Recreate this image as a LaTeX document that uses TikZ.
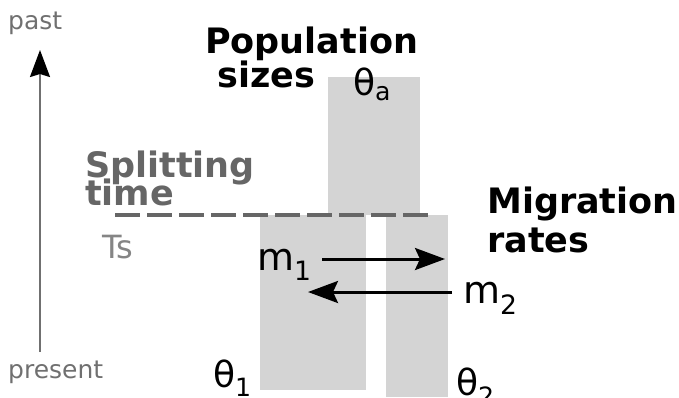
\documentclass[tikz,border=0pt]{standalone}
\usepackage{fontspec}
\setmainfont{DejaVu Sans}
\usetikzlibrary{arrows.meta,positioning}
\definecolor{popgrey}{HTML}{D4D4D4}
\definecolor{labgrey}{HTML}{707070}
\definecolor{splitgrey}{HTML}{666666}

\begin{document}
\begin{tikzpicture}[
    x=1pt, y=-1pt,
    pop/.style={fill=popgrey, draw=none},
    lbl/.style={inner sep=0pt, anchor=base west},
    head/.style={lbl, font=\fontsize{35}{35}\selectfont\bfseries},
    timelbl/.style={lbl, labgrey, font=\fontsize{25}{25}\selectfont},
    param/.style={lbl, font=\fontsize{36}{36}\selectfont},
    migr/.style={-{Stealth[length=30pt, width=22pt, inset=5pt]}, line width=3pt}
  ]
    \useasboundingbox (0,0) rectangle (679,397);
    % population blocks
    \fill[pop] (328,77) rectangle (420,215);
    \fill[pop] (260,215) rectangle (366,390);
    \fill[pop] (386,215) rectangle (448,397);
    % time axis
    \node[timelbl] (past) at (8,29) {past};
    \node[timelbl] (present) at (8,378) {present};
    \coordinate (tbot) at (40,352);
    \coordinate (ttop) at (40,50);
    \draw[labgrey, line width=2pt, -{Stealth[length=27pt, width=20pt, inset=3pt, black]}] (tbot) -- (ttop);
    % splitting time
    \node[head, splitgrey] (split) at (85,177) {Splitting};
    \node[head, splitgrey] (time) at (85,205) {time};
    \coordinate (ts0) at (115,215);
    \coordinate (ts1) at (432,215);
    \draw[splitgrey, line width=4pt, dash pattern=on 25pt off 7pt] (ts0) -- (ts1);
    \node[lbl, labgrey!85, font=\fontsize{32}{32}\selectfont] (ts) at (102,258) {Ts};
    % headings
    \node[head] (popA) at (205,53) {Population};
    \node[head] (popB) at (217,87) {sizes};
    \node[head] (migA) at (487,213) {Migration};
    \node[head] (migB) at (487,252) {rates};
    % parameters
    \node[param] (tha) at (353,95) {θ\textsubscript{a}};
    \node[param] (th1) at (213,387) {θ\textsubscript{1}};
    \node[param] (th2) at (456,395) {θ\textsubscript{2}};
    \node[param, font=\fontsize{38}{38}\selectfont] (m1) at (257,270) {m\textsubscript{1}};
    \node[param, font=\fontsize{38}{38}\selectfont] (m2) at (463,303) {m\textsubscript{2}};
    % migration arrows
    \coordinate (a1s) at (322,259);
    \coordinate (a1e) at (445,259);
    \coordinate (a2s) at (452,292);
    \coordinate (a2e) at (308,292);
    \draw[migr] (a1s) -- (a1e);
    \draw[migr] (a2s) -- (a2e);
\end{tikzpicture}
\end{document}
